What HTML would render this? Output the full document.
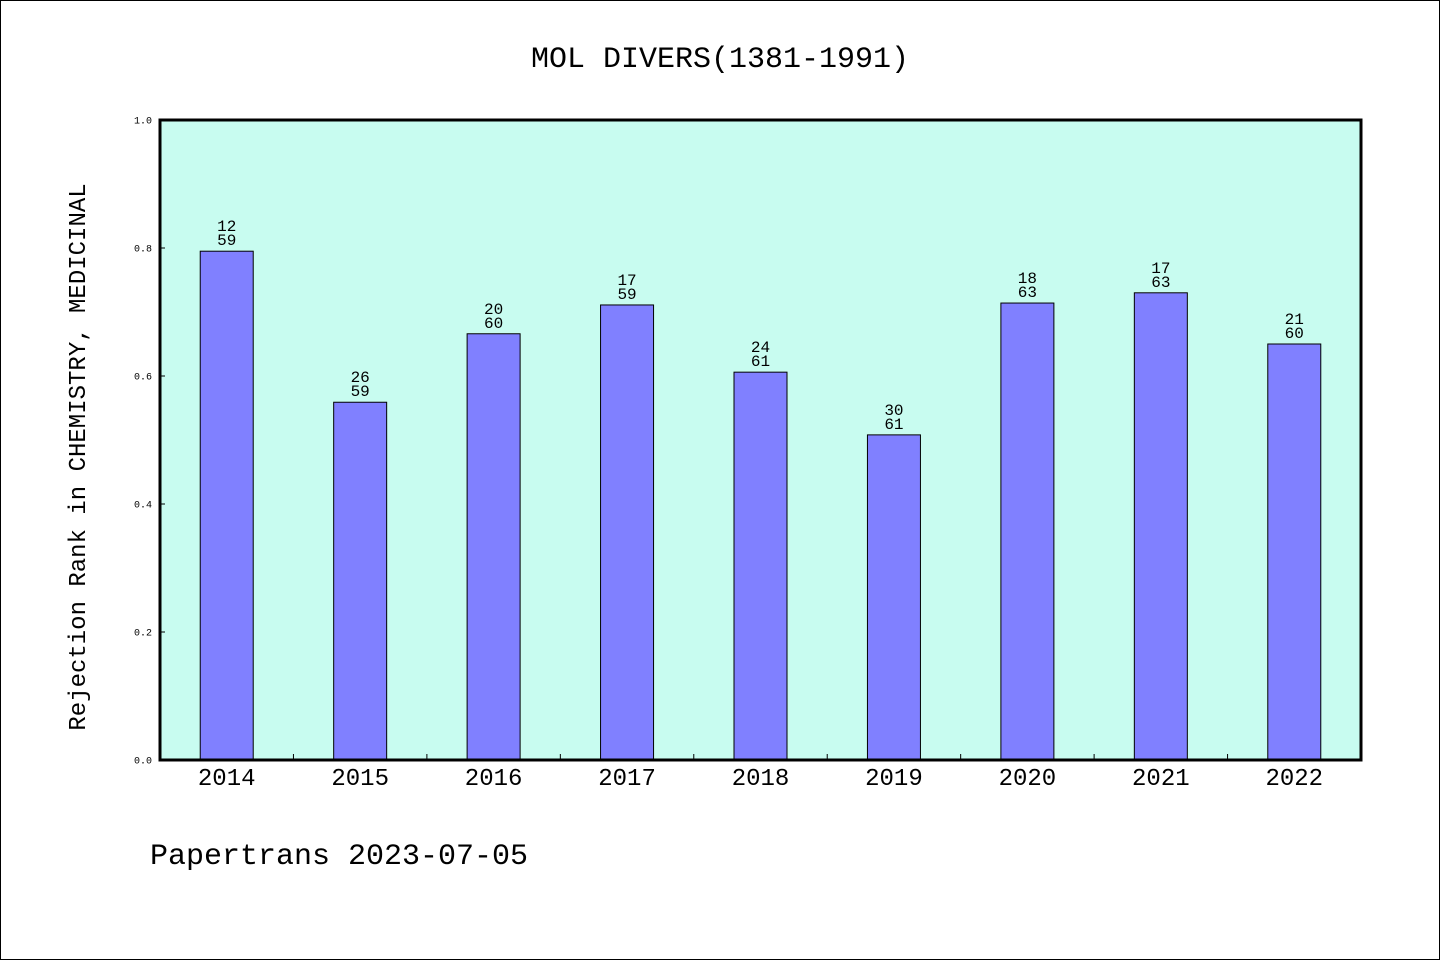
<!DOCTYPE html>
<html><head><meta charset="utf-8"><style>
body{margin:0;background:#fff}
svg{display:block;font-family:"WenQuanYi Zen Hei","Liberation Mono",monospace}
</style></head><body>
<svg width="1440" height="960" viewBox="0 0 1440 960">
<rect x="0.5" y="0.5" width="1439" height="959" fill="#fff" stroke="#000"/>
<text x="720" y="67" text-anchor="middle" font-size="30">MOL DIVERS(1381-1991)</text>
<rect x="160" y="120" width="1201" height="640" fill="#c8fcf0"/>
<g id="bars"></g>
<g id="xaxis"></g>
<g id="yaxis"></g>
<rect x="160" y="120" width="1201" height="640" fill="none" stroke="#000" stroke-width="3"/>
<text transform="translate(85,457) rotate(-90)" text-anchor="middle" font-size="24">Rejection Rank in CHEMISTRY, MEDICINAL</text>
<text x="150" y="864" font-size="30">Papertrans 2023-07-05</text>
</svg>
<script>
const categories=["2014","2015","2016","2017","2018","2019","2020","2021","2022"];
const values=[0.795,0.559,0.666,0.711,0.606,0.508,0.714,0.730,0.650];
const ranks=["12","26","20","17","24","30","18","17","21"];
const totals=["59","59","60","59","61","61","63","63","60"];
const yTicks=[0,0.2,0.4,0.6,0.8,1.0];
const NS="http://www.w3.org/2000/svg";
const X0=160,W=1201,Y0=760,H=640;
const band=W/categories.length;
const xc=i=>X0+band*(i+0.5);
const y=v=>Y0-v*H;
function mk(t,a,p){const e=document.createElementNS(NS,t);for(const k in a)e.setAttribute(k,a[k]);p.appendChild(e);return e;}
const gb=document.getElementById('bars'),gx=document.getElementById('xaxis'),gy=document.getElementById('yaxis');
categories.forEach((c,i)=>{
 const r=mk('rect',{x:xc(i)-26.5,y:y(values[i]),width:53,height:Y0-y(values[i]),fill:'#8080ff',stroke:'#000','stroke-width':1},gb);
 
 
 const t1=mk('text',{x:xc(i),y:y(values[i])-20,'text-anchor':'middle','font-size':16},gb);t1.textContent=ranks[i];
 
 
 const t2=mk('text',{x:xc(i),y:y(values[i])-6,'text-anchor':'middle','font-size':16},gb);t2.textContent=totals[i];
 
 
 const xl=mk('text',{x:xc(i),y:785,'text-anchor':'middle','font-size':24},gx);xl.textContent=c;
 
 
 if(i>0){const tk=mk('line',{x1:X0+band*i,x2:X0+band*i,y1:Y0,y2:Y0-6,stroke:'#000','stroke-width':1},gx);
 
 }
});
yTicks.forEach(v=>{
 const t=mk('text',{x:152,y:y(v)+3.5,'text-anchor':'end','font-size':10},gy);t.textContent=v.toFixed(1);
 
 
 const l=mk('line',{x1:X0,x2:X0+5,y1:y(v),y2:y(v),stroke:'#000','stroke-width':1},gy);
 
 
});
</script>
</body></html>
